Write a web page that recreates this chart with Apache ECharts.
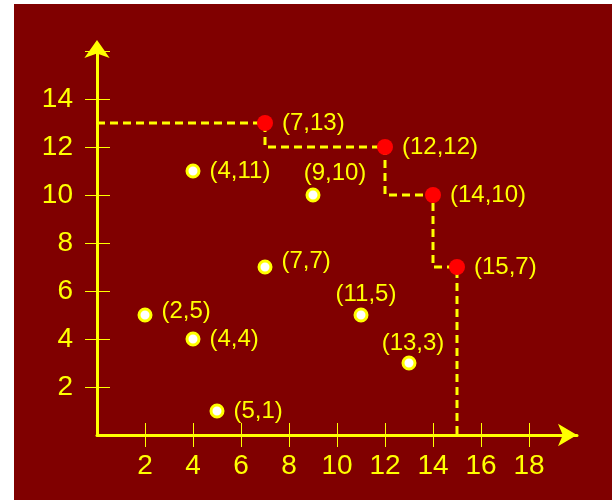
<!DOCTYPE html>
<html>
<head>
<meta charset="utf-8">
<script src="https://cdn.jsdelivr.net/npm/echarts@6/dist/echarts.min.js"></script>
<style>
  html, body { margin: 0; padding: 0; background: #fff; }
  #chart { position: absolute; left: 14px; top: 4px; width: 598px; height: 496px; }
</style>
</head>
<body>
<div id="chart"></div>
<script>
// plain points (white with yellow ring)
const plainX = [4, 9, 2, 4, 7, 11, 13, 5]
const plainY = [11, 10, 5, 4, 7, 5, 3, 1]
// skyline points (red)
const skyX = [7, 12, 14, 15]
const skyY = [13, 12, 10, 7]
// axis ticks / labels
const xTicks = [2, 4, 6, 8, 10, 12, 14, 16, 18]
const yTicks = [2, 4, 6, 8, 10, 12, 14, 16]
const yLabels = [2, 4, 6, 8, 10, 12, 14]

const YELLOW = '#ffff00'
const FONT = "'Liberation Sans', Arial, sans-serif"

// label placement for the plain points, by index
const plainLabelPos = [
  { position: 'right' },
  { position: 'top', offset: [22, 7] },
  { position: 'right', offset: [0, -4] },
  { position: 'right' },
  { position: 'right', offset: [0, -6] },
  { position: 'top', offset: [5, 8] },
  { position: 'top', offset: [4, 9] },
  { position: 'right' },
]

// staircase through the skyline points
const stairs = () => {
  const pts = [[0, skyY[0]]]
  skyX.forEach((x, i) => {
    pts.push([x, skyY[i]])
    pts.push([x, i < skyX.length - 1 ? skyY[i + 1] : 0])
  })
  return pts
}

const pointLabel = {
  show: true,
  position: 'right',
  distance: 9,
  color: YELLOW,
  fontSize: 24,
  fontFamily: FONT,
  formatter: ({ value }) => `(${value[0]},${value[1]})`,
}

const baseAxis = {
  min: 0,
  splitLine: { show: false },
  axisLine: {
    show: true,
    lineStyle: { color: YELLOW, width: 3 },
  },
  axisLabel: {
    color: YELLOW,
    fontSize: 28,
    fontFamily: FONT,
  },
}

const innerAxis = {
  min: 0,
  splitLine: { show: false },
  axisLine: { show: false },
  axisLabel: { show: false },
}

const option = {
  backgroundColor: '#800000',
  animation: false,
  grid: {
    left: 83,
    width: 480,
    top: 47,
    height: 384,
  },
  xAxis: [
    {
      ...baseAxis,
      type: 'value',
      max: 20,
      axisLine: {
        ...baseAxis.axisLine,
        symbol: ['none', 'arrow'],
        symbolSize: [17, 19],
        symbolOffset: [0, 0],
      },
      axisTick: {
        show: true,
        length: 12,
        lineStyle: { color: YELLOW, width: 1 },
        customValues: xTicks,
      },
      axisLabel: {
        ...baseAxis.axisLabel,
        margin: 17,
        customValues: xTicks,
      },
    },
    {
      ...innerAxis,
      type: 'value',
      position: 'bottom',
      max: 20,
      axisTick: {
        show: true,
        inside: true,
        length: 12,
        lineStyle: { color: YELLOW, width: 1 },
        customValues: xTicks,
      },
    },
  ],
  yAxis: [
    {
      ...baseAxis,
      type: 'value',
      max: 16,
      axisLine: {
        ...baseAxis.axisLine,
        symbol: ['none', 'arrow'],
        symbolSize: [19, 18],
        symbolOffset: [0, 11],
      },
      axisTick: {
        show: true,
        length: 12,
        lineStyle: { color: YELLOW, width: 1 },
        customValues: yTicks,
      },
      axisLabel: {
        ...baseAxis.axisLabel,
        margin: 24,
        customValues: yLabels,
      },
    },
    {
      ...innerAxis,
      type: 'value',
      position: 'left',
      max: 16,
      axisTick: {
        show: true,
        inside: true,
        length: 13,
        lineStyle: { color: YELLOW, width: 1 },
        customValues: yTicks,
      },
    },
  ],
  series: [
    {
      type: 'line',
      data: stairs(),
      showSymbol: false,
      symbol: 'none',
      z: 1,
      lineStyle: { color: YELLOW, width: 3, type: [8, 5] },
    },
    {
      type: 'scatter',
      z: 3,
      symbol: 'circle',
      symbolSize: 12,
      itemStyle: { color: '#ffffff', borderColor: YELLOW, borderWidth: 3, opacity: 1 },
      label: pointLabel,
      data: plainX.map((x, i) => ({
        value: [x, plainY[i]],
        label: plainLabelPos[i],
      })),
    },
    {
      type: 'scatter',
      z: 3,
      symbol: 'circle',
      symbolSize: 16,
      itemStyle: { color: '#ff0000', opacity: 1 },
      label: pointLabel,
      data: skyX.map((x, i) => [x, skyY[i]]),
    },
  ],
}

const chart = echarts.init(document.getElementById('chart'))
chart.setOption(option)
</script>
</body>
</html>
